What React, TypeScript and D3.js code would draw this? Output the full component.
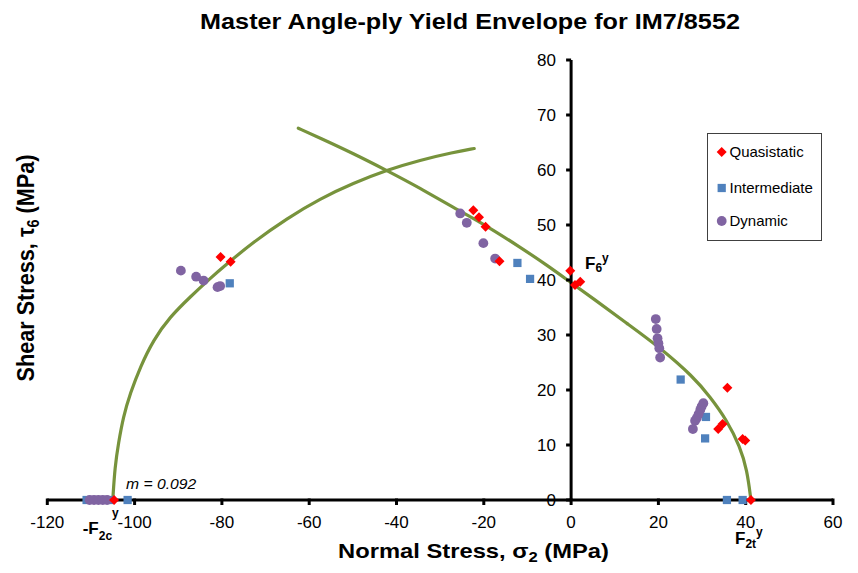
import React, { useLayoutEffect, useRef } from 'react';
import * as d3 from 'd3';

// ---- data ----
const xTickValues = [-120, -100, -80, -60, -40, -20, 0, 20, 40, 60];
const yTickValues = [0, 10, 20, 30, 40, 50, 60, 70, 80];

// compressive-side envelope curve
const compCurveSigma = [-105, -104.5, -103.7, -102.6, -101.0, -98.7, -95.7, -91.9, -87.3, -82.7, -78.9, -72.8, -65.1, -57.5, -49.9, -42.2, -34.6, -27.0, -22.2];
const compCurveTau = [0, 6.1, 10.3, 15.1, 19.4, 24.2, 29.1, 33.3, 36.9, 40.3, 42.9, 46.9, 51.2, 54.8, 57.6, 60.0, 61.8, 63.2, 63.9];

// main envelope curve
const mainCurveSigma = [-62.5, -57.5, -49.9, -42.2, -34.6, -27.0, -20.9, -11.7, -5.0, 0.0, 5.1, 12.8, 20.4, 28.0, 31.8, 35.7, 38.7, 40.3, 41.2];
const mainCurveTau = [67.6, 65.8, 63.0, 59.9, 56.7, 53.2, 50.6, 46.0, 42.4, 39.5, 36.6, 32.1, 27.7, 22.4, 18.8, 14.5, 9.7, 5.5, 0];

const quasiSigma = [-104.7, -80.3, -78.0, -22.4, -21.1, -19.6, -16.4, -0.2, 0.9, 2.1, 35.8, 33.7, 34.7, 39.3, 39.9, 41.2];
const quasiTau = [0, 44.2, 43.3, 52.7, 51.4, 49.7, 43.4, 41.7, 39.1, 39.7, 20.4, 12.9, 13.8, 11.1, 10.8, 0];

const interSigma = [-111.0, -105.4, -101.6, -78.2, -12.3, -9.4, 25.1, 30.9, 30.7, 35.7, 39.3];
const interTau = [0, 0, 0, 39.4, 43.1, 40.2, 21.9, 15.1, 11.2, 0, 0];

const dynSigma = [-110.3, -109.3, -108.3, -107.3, -106.3, -89.4, -85.9, -84.2, -81.0, -80.4, -25.4, -23.9, -20.1, -17.4, 19.4, 19.6, 19.8, 20.0, 20.2, 20.4, 30.3, 29.9, 29.6, 29.2, 28.8, 28.4, 27.9];
const dynTau = [0, 0, 0, 0, 0, 41.7, 40.6, 39.9, 38.7, 38.9, 52.1, 50.4, 46.7, 43.9, 32.9, 31.1, 29.4, 28.5, 27.6, 25.9, 17.6, 17.0, 16.4, 15.6, 14.9, 14.4, 12.9];

const seriesNames = ['Quasistatic', 'Intermediate', 'Dynamic'];

const FONT = '"Liberation Sans", Arial, Helvetica, sans-serif';
const RED = '#FF0000';
const BLUE = '#4F81BD';
const PURPLE = '#8064A2';
const GREEN = '#77933C';

function zip(a: number[], b: number[]): [number, number][] {
  return a.map((v, i) => [v, b[i]]);
}

// Text stretched horizontally to hit a target width
function FitText(props: { x: number; y: number; width: number; anchor?: string; fontSize: number; bold?: boolean; italic?: boolean; children: React.ReactNode }) {
  const ref = useRef<SVGTextElement>(null);
  const gref = useRef<SVGGElement>(null);
  useLayoutEffect(() => {
    if (!ref.current || !gref.current) return;
    const w = ref.current.getBBox().width;
    const s = w > 0 ? props.width / w : 1;
    gref.current.setAttribute('transform', `translate(${props.x},${props.y}) scale(${s},1)`);
  });
  return (
    <g ref={gref} transform={`translate(${props.x},${props.y})`}>
      <text ref={ref} x={0} y={0} textAnchor={props.anchor || 'middle'} fontFamily={FONT} fontSize={props.fontSize}
        fontWeight={props.bold ? 'bold' : 'normal'} fontStyle={props.italic ? 'italic' : 'normal'} fill="#000">
        {props.children}
      </text>
    </g>
  );
}

export default function App() {
  const x = d3.scaleLinear().domain([-120, 60]).range([47.3, 833]);
  const y = d3.scaleLinear().domain([0, 80]).range([500, 60]);
  const line = d3.line<[number, number]>().x(d => x(d[0])).y(d => y(d[1])).curve(d3.curveBasis);

  const diamond = d3.symbol().type(d3.symbolSquare).size(50)()!;
  const square = d3.symbol().type(d3.symbolSquare).size(68)()!;
  const circle = d3.symbol().type(d3.symbolCircle).size(Math.PI * 4.9 * 4.9)()!;

  const quasi = zip(quasiSigma, quasiTau);
  const inter = zip(interSigma, interTau);
  const dyn = zip(dynSigma, dynTau);

  const legendY = [152, 188, 221];

  return (
    <svg width={858} height={573} style={{ position: 'absolute', left: 0, top: 0, background: '#fff' }}>
      <rect x={0} y={0} width={858} height={573} fill="#fff" />
      {/* title */}
      <FitText x={470} y={29} width={540} fontSize={22} bold>Master Angle-ply Yield Envelope for IM7/8552</FitText>

      {/* curves */}
      <path d={line(zip(compCurveSigma, compCurveTau))!} fill="none" stroke={GREEN} strokeWidth={3.2} strokeLinecap="round" />
      <path d={line(zip(mainCurveSigma, mainCurveTau))!} fill="none" stroke={GREEN} strokeWidth={3.2} strokeLinecap="round" />

      {/* axes */}
      <line x1={x(-120)} x2={x(60)} y1={y(0)} y2={y(0)} stroke="#000" strokeWidth={3} />
      <line x1={x(0)} x2={x(0)} y1={y(0)} y2={y(80)} stroke="#000" strokeWidth={3} />
      {xTickValues.map(v => (
        <line key={'xt' + v} x1={x(v)} x2={x(v)} y1={y(0) - 1.5} y2={y(0) + 5} stroke="#000" strokeWidth={3} />
      ))}
      {yTickValues.map(v => (
        <line key={'yt' + v} x1={x(0) - 5} x2={x(0)} y1={y(v)} y2={y(v)} stroke="#000" strokeWidth={3} />
      ))}
      {xTickValues.map(v => (
        <text key={'xl' + v} x={x(v)} y={528} textAnchor="middle" fontFamily={FONT} fontSize={17} fill="#000">{v}</text>
      ))}
      {yTickValues.map(v => (
        <text key={'yl' + v} x={556} y={y(v) + 6} textAnchor="end" fontFamily={FONT} fontSize={17} fill="#000">{v}</text>
      ))}

      {/* points */}
      {inter.map((d, i) => (
        <path key={'i' + i} d={square} transform={`translate(${x(d[0])},${y(d[1])})`} fill={BLUE} />
      ))}
      {dyn.map((d, i) => (
        <path key={'d' + i} d={circle} transform={`translate(${x(d[0])},${y(d[1])})`} fill={PURPLE} />
      ))}
      {quasi.map((d, i) => (
        <path key={'q' + i} d={diamond} transform={`translate(${x(d[0])},${y(d[1])}) rotate(45)`} fill={RED} />
      ))}

      {/* axis titles */}
      <FitText x={473.5} y={558} width={271} fontSize={20} bold>
        Normal Stress, σ<tspan fontSize={14} dy={4}>2</tspan><tspan dy={-4}> (MPa)</tspan>
      </FitText>
      <g transform="translate(34,268) scale(1.15,1) rotate(-90)">
        <text x={0} y={0} textAnchor="middle" fontFamily={FONT} fontSize={21} fontWeight="bold" fill="#000" textLength={227} lengthAdjust="spacingAndGlyphs">
          Shear Stress, τ<tspan fontSize={14} dy={4}>6</tspan><tspan dy={-4}> (MPa)</tspan>
        </text>
      </g>

      {/* annotations */}
      <text x={585} y={269.3} fontFamily={FONT} fontSize={17} fontWeight="bold" fill="#000">
        F<tspan fontSize={12} dy={2.5}>6</tspan><tspan fontSize={12} dy={-10.3}>y</tspan>
      </text>
      <text x={82.7} y={534} fontFamily={FONT} fontSize={17} fontWeight="bold" fill="#000">
        -F<tspan fontSize={12} dy={5.5}>2c</tspan><tspan fontSize={12} dy={-23}>y</tspan>
      </text>
      <text x={735} y={543.5} fontFamily={FONT} fontSize={17} fontWeight="bold" fill="#000">
        F<tspan fontSize={12} dy={4.8}>2t</tspan><tspan fontSize={12} dy={-12}>y</tspan>
      </text>
      <FitText x={126} y={489} width={71} anchor="start" fontSize={15} italic>m = 0.092</FitText>

      {/* legend */}
      <rect x={707.5} y={133.5} width={114} height={107} fill="#fff" stroke="#404040" strokeWidth={1} />
      {seriesNames.map((name, i) => (
        <g key={name}>
          <path d={i === 0 ? diamond : i === 1 ? square : circle}
            transform={`translate(721.7,${legendY[i]})${i === 0 ? ' rotate(45)' : ''}`}
            fill={i === 0 ? RED : i === 1 ? BLUE : PURPLE} />
          <text x={729.5} y={legendY[i] + 5} fontFamily={FONT} fontSize={15} fill="#000">{name}</text>
        </g>
      ))}
    </svg>
  );
}
